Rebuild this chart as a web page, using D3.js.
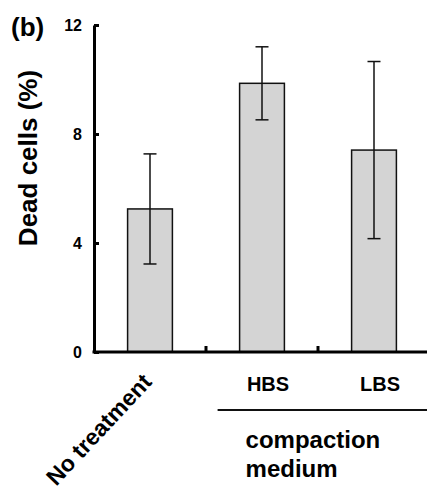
<!DOCTYPE html>
<html>
<head>
<meta charset="utf-8">
<script src="https://cdn.jsdelivr.net/npm/d3@7"></script>
<style>
  body { margin: 0; background: #fff; }
  svg { display: block; font-family: "Liberation Sans", Arial, sans-serif; font-weight: bold; }
</style>
</head>
<body>
<svg width="427" height="493"></svg>
<script>
const categories = ["No treatment", "HBS", "LBS"];
const means = [5.25, 9.86, 7.41];
const errors = [2.02, 1.34, 3.25];
const yTicks = [0, 4, 8, 12];

const data = categories.map((c, i) => ({ cat: c, mean: means[i], err: errors[i] }));

const svg = d3.select("svg");
const margin = { top: 25, left: 94, bottom: 141, right: -3 };
const width = +svg.attr("width");
const height = +svg.attr("height");
const innerWidth = width - margin.left - margin.right;
const innerHeight = height - margin.top - margin.bottom;

const g = svg.append("g").attr("transform", `translate(${margin.left},${margin.top})`);

const xScale = d3.scaleBand()
  .domain(categories)
  .range([0, innerWidth])
  .paddingInner(0.6)
  .paddingOuter(0.3);

const yScale = d3.scaleLinear().domain([0, 12]).range([innerHeight, 0]);

// bars
g.selectAll("rect.bar")
  .data(data)
  .enter()
  .append("rect")
  .attr("class", "bar")
  .attr("x", d => xScale(d.cat))
  .attr("y", d => yScale(d.mean))
  .attr("width", xScale.bandwidth())
  .attr("height", d => yScale(0) - yScale(d.mean))
  .attr("fill", "#d4d4d4")
  .attr("stroke", "#111")
  .attr("stroke-width", 1.5);

// error bars
const cx = d => xScale(d.cat) + xScale.bandwidth() / 2;
const cap = 6.5;
const eb = g.selectAll("g.err").data(data).enter().append("g").attr("class", "err")
  .attr("stroke", "#111").attr("stroke-width", 1.5);
eb.append("line")
  .attr("x1", cx).attr("x2", cx)
  .attr("y1", d => yScale(d.mean + d.err)).attr("y2", d => yScale(d.mean - d.err));
eb.append("line")
  .attr("x1", d => cx(d) - cap).attr("x2", d => cx(d) + cap)
  .attr("y1", d => yScale(d.mean + d.err)).attr("y2", d => yScale(d.mean + d.err));
eb.append("line")
  .attr("x1", d => cx(d) - cap).attr("x2", d => cx(d) + cap)
  .attr("y1", d => yScale(d.mean - d.err)).attr("y2", d => yScale(d.mean - d.err));

// y axis, ticks point inward
const yAxis = d3.axisLeft(yScale).tickValues(yTicks).tickSizeInner(-5).tickSizeOuter(0).tickPadding(12);
const yG = g.append("g").call(yAxis);
yG.select(".domain").attr("stroke-width", 3).attr("stroke", "#000");
yG.selectAll(".tick line").attr("stroke-width", 3).attr("stroke", "#000");
yG.selectAll(".tick text")
  .attr("font-size", 16).attr("font-weight", "bold").attr("font-family", "Liberation Sans, Arial, sans-serif")
  .attr("fill", "#000");

// x axis with small up ticks at band boundaries
const step = xScale.step();
const bounds = categories.slice(1).map(c => xScale(c) - step * xScale.paddingInner() / 2);
g.append("line")
  .attr("x1", -1.5).attr("x2", innerWidth + 5)
  .attr("y1", yScale(0)).attr("y2", yScale(0))
  .attr("stroke", "#000").attr("stroke-width", 3);
g.selectAll("line.bt").data(bounds).enter().append("line")
  .attr("class", "bt")
  .attr("x1", d => d).attr("x2", d => d)
  .attr("y1", yScale(0)).attr("y2", yScale(0) - 6)
  .attr("stroke", "#000").attr("stroke-width", 3);

// category labels
const base = yScale(0);
g.append("text")
  .attr("transform", `translate(${cx(data[0]) + 3},${base + 31}) rotate(-47)`)
  .attr("text-anchor", "end")
  .attr("font-size", 23)
  .text(categories[0]);

g.selectAll("text.cl").data(data.slice(1)).enter().append("text")
  .attr("class", "cl")
  .attr("x", d => cx(d) + 6)
  .attr("y", base + 39)
  .attr("text-anchor", "middle")
  .attr("font-size", 20)
  .text(d => d.cat);

// grouping line and caption
const gx0 = xScale(categories[1]) - 22;
g.append("line")
  .attr("x1", gx0).attr("x2", innerWidth + 5)
  .attr("y1", base + 58).attr("y2", base + 58)
  .attr("stroke", "#111").attr("stroke-width", 2);
g.append("text").attr("x", gx0 + 28).attr("y", base + 96).attr("font-size", 24).text("compaction");
g.append("text").attr("x", gx0 + 28).attr("y", base + 125).attr("font-size", 24).text("medium");

// y axis title
svg.append("text")
  .attr("transform", `translate(37,158) rotate(-90)`)
  .attr("text-anchor", "middle")
  .attr("font-size", 26)
  .text("Dead cells (%)");

// panel letter
svg.append("text").attr("x", 11).attr("y", 36).attr("font-size", 26).text("(b)");
</script>
</body>
</html>
